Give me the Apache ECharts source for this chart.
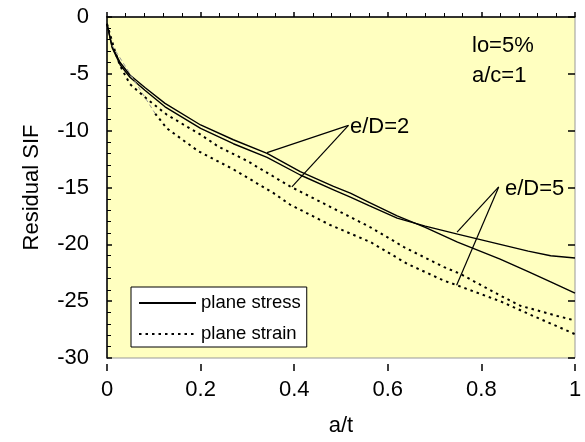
<!DOCTYPE html>
<html>
<head>
<meta charset="utf-8">
<script src="https://cdn.jsdelivr.net/npm/echarts@6/dist/echarts.min.js"></script>
<style>
  body { margin: 0; background: #fff; }
  #chart { width: 585px; height: 442px; }
</style>
</head>
<body>
<div id="chart"></div>
<script>
// x ticks / y ticks
const xTicks = [0, 0.2, 0.4, 0.6, 0.8, 1];
const yTicks = [-30, -25, -20, -15, -10, -5, 0];

// plane stress, curve ending flatter (e/D=5)
const stressA_x = [0, 0.011, 0.028, 0.049, 0.081, 0.124, 0.2, 0.27, 0.342, 0.413, 0.484, 0.52, 0.56, 0.62, 0.68, 0.749, 0.84, 0.9, 0.948, 1];
const stressA_y = [-0.6, -2.7, -4.2, -5.3, -6.45, -7.9, -9.8, -11.15, -12.35, -13.9, -15.2, -15.85, -16.6, -17.7, -18.4, -19.1, -20.0, -20.6, -21.0, -21.2];
// plane stress, curve ending steeper (e/D=2)
const stressB_x = [0, 0.011, 0.028, 0.049, 0.081, 0.124, 0.2, 0.27, 0.342, 0.413, 0.484, 0.52, 0.56, 0.62, 0.68, 0.749, 0.84, 0.9, 0.948, 1];
const stressB_y = [-0.6, -2.6, -4.0, -5.1, -6.2, -7.6, -9.5, -10.8, -12.0, -13.6, -14.9, -15.5, -16.3, -17.5, -18.5, -19.8, -21.3, -22.4, -23.3, -24.3];

// plane strain, upper dotted
const strainA_x = [0, 0.017, 0.028, 0.049, 0.088, 0.128, 0.2, 0.238, 0.299, 0.391, 0.477, 0.563, 0.637, 0.72, 0.755, 0.84, 0.883, 0.962, 1];
const strainA_y = [-0.6, -3.0, -4.3, -5.9, -7.3, -8.6, -10.35, -11.4, -12.65, -14.9, -16.7, -18.5, -20.3, -22.0, -22.6, -24.5, -25.4, -26.3, -26.7];
// plane strain, lower dotted
const strainB_x = [0.103, 0.128, 0.195, 0.27, 0.356, 0.391, 0.477, 0.563, 0.641, 0.72, 0.748, 0.84, 0.905, 1];
const strainB_y = [-8.5, -9.8, -11.8, -13.4, -15.5, -16.5, -18.3, -19.8, -21.7, -23.2, -23.6, -25.0, -26.2, -27.9];
// faint start of the lower dotted curve
const strainStart_x = [0.011, 0.103];
const strainStart_y = [-2.5, -8.5];

// leader lines to the e/D labels
const lead2a_x = [0.342, 0.516], lead2a_y = [-11.93, -9.54];
const lead2b_x = [0.395, 0.516], lead2b_y = [-14.95, -9.54];
const lead5a_x = [0.748, 0.837], lead5a_y = [-18.93, -14.95];
const lead5b_x = [0.747, 0.837], lead5b_y = [-23.6, -14.95];

const pairs = (xs, ys) => xs.map((x, i) => [x, ys[i]]);

const font = "Liberation Sans, Arial, sans-serif";
const chart = echarts.init(document.getElementById("chart"));

const leader = (xs, ys) => ({
  type: "line",
  data: pairs(xs, ys),
  symbol: "none",
  silent: true,
  lineStyle: { color: "#000", width: 1.2 },
  z: 5,
});

var option = {
  animation: false,
  backgroundColor: "#fff",
  grid: {
    left: 107,
    right: 10,
    top: 17,
    bottom: 78,
    show: true,
    backgroundColor: "#FFFFC0",
    borderColor: "#999",
    borderWidth: 1,
  },
  legend: {
    data: ["plane stress", "plane strain"],
    orient: "vertical",
    left: 131,
    top: 287,
    itemWidth: 57,
    itemHeight: 14,
    itemGap: 11,
    padding: [6, 6, 3, 7],
    backgroundColor: "#fff",
    borderColor: "#000",
    borderWidth: 1,
    borderRadius: 0,
    selectedMode: false,
    itemStyle: { opacity: 0 },
    textStyle: { fontFamily: font, fontSize: 18.5, color: "#000", lineHeight: 20 },
  },
  xAxis: [
    {
      type: "value",
      min: 0,
      max: 1,
      interval: 0.2,
      position: "bottom",
      name: "a/t",
      nameLocation: "middle",
      nameGap: 57,
      nameTextStyle: { fontFamily: font, fontSize: 22, color: "#000" },
      axisLine: { lineStyle: { color: "#000", width: 1.5 } },
      axisTick: { inside: true, length: 5, lineStyle: { color: "#000", width: 1.5 } },
      minorTick: { show: true, splitNumber: 5, length: 4, lineStyle: { color: "#000", width: 1 } },
      splitLine: { show: false },
      axisLabel: {
        fontFamily: font, fontSize: 22, color: "#000", margin: 21,
        formatter: (v) => (xTicks.includes(v) ? String(v) : ""),
      },
    },
    {
      type: "value",
      min: 0,
      max: 1,
      interval: 0.2,
      position: "top",
      offset: -347,
      axisLine: { show: false },
      axisTick: { inside: true, length: 7, lineStyle: { color: "#000", width: 1.5 } },
      axisLabel: { show: false },
      splitLine: { show: false },
    },
  ],
  yAxis: [
    {
      type: "value",
      min: -30,
      max: 0,
      interval: 5,
      position: "left",
      name: "Residual SIF",
      nameLocation: "middle",
      nameGap: 64,
      nameTextStyle: { fontFamily: font, fontSize: 22, color: "#000" },
      axisLine: { lineStyle: { color: "#000", width: 1.5 } },
      axisTick: { inside: true, length: 5, lineStyle: { color: "#000", width: 1.5 } },
      minorTick: { show: true, splitNumber: 5, length: 4, lineStyle: { color: "#000", width: 1 } },
      splitLine: { show: false },
      axisLabel: {
        fontFamily: font, fontSize: 22, color: "#000", margin: 18,
        formatter: (v) => (yTicks.includes(v) ? String(v) : ""),
      },
    },
    {
      type: "value",
      min: -30,
      max: 0,
      interval: 5,
      position: "right",
      offset: -468,
      axisLine: { show: false },
      axisTick: { inside: true, length: 7, lineStyle: { color: "#000", width: 1.5 } },
      axisLabel: { show: false },
      splitLine: { show: false },
    },
  ],
  series: [
    {
      name: "plane stress",
      type: "line",
      data: pairs(stressA_x, stressA_y),
      symbol: "none",
      lineStyle: { color: "#000", width: 1.4 },
      itemStyle: { color: "#000" },
    },
    {
      name: "plane stress",
      type: "line",
      data: pairs(stressB_x, stressB_y),
      symbol: "none",
      lineStyle: { color: "#000", width: 1.4 },
      itemStyle: { color: "#000" },
    },
    {
      name: "plane strain",
      type: "line",
      data: pairs(strainA_x, strainA_y),
      symbol: "none",
      lineStyle: { color: "#000", width: 2, type: [2.5, 4] },
      itemStyle: { color: "#000" },
    },
    {
      name: "plane strain",
      type: "line",
      data: pairs(strainB_x, strainB_y),
      symbol: "none",
      lineStyle: { color: "#000", width: 2, type: [2.5, 4] },
      itemStyle: { color: "#000" },
    },
    {
      type: "line",
      data: pairs(strainStart_x, strainStart_y),
      symbol: "none",
      silent: true,
      lineStyle: { color: "#999", width: 1, type: [4, 3] },
    },
    leader(lead2a_x, lead2a_y),
    leader(lead2b_x, lead2b_y),
    leader(lead5a_x, lead5a_y),
    leader(lead5b_x, lead5b_y),
  ],
  graphic: [
    { type: "text", left: 472, top: 35, style: { text: "lo=5%", font: "22px " + font, fill: "#000" } },
    { type: "text", left: 472, top: 65, style: { text: "a/c=1", font: "22px " + font, fill: "#000" } },
    { type: "text", left: 350, top: 116, style: { text: "e/D=2", font: "22px " + font, fill: "#000" } },
    { type: "text", left: 505, top: 178, style: { text: "e/D=5", font: "22px " + font, fill: "#000" } },
  ],
};
chart.setOption(option);
</script>
</body>
</html>
